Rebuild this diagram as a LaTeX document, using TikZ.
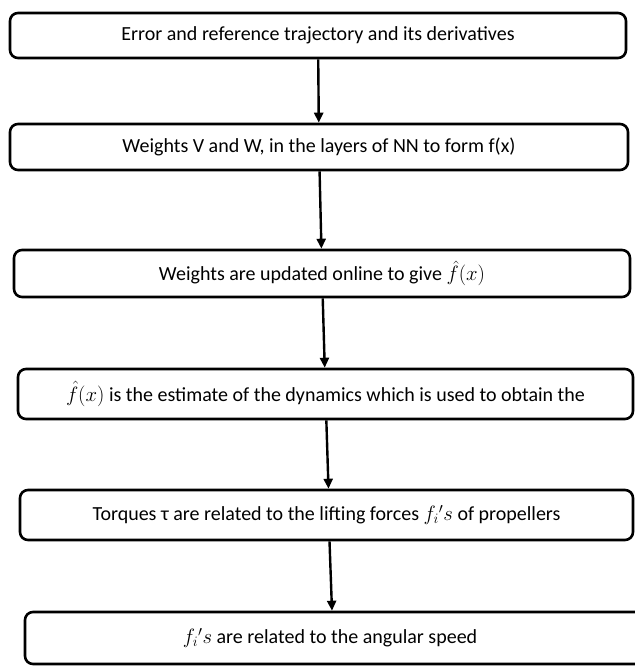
\documentclass[tikz,border=0pt]{standalone}
\usepackage{fontspec}
\setmainfont{Carlito}
\usetikzlibrary{arrows.meta}

\begin{document}
\begin{tikzpicture}[x=1pt, y=-1pt, line join=round,
    stepbox/.style={draw, line width=2.6pt, rounded corners=8pt, inner sep=0pt,
                    font=\fontsize{20}{24}\selectfont},
    flow/.style={line width=2.4pt, -{Triangle[width=9pt,length=10pt]}}]

  %% ════ 方框 ════
  \node[stepbox, minimum width=616pt, minimum height=45pt] (err)  at (318.0,35.5)
    {Error and reference trajectory and its derivatives};
  \node[stepbox, minimum width=618pt, minimum height=46pt] (wts)  at (319.0,147.0)
    {Weights V and W, in the layers of NN to form f(x)};
  \node[stepbox, minimum width=616pt, minimum height=47pt] (upd)  at (322.0,273.5)
    {Weights are updated online to give $\hat{f}(x)$};
  \node[stepbox, minimum width=615pt, minimum height=50pt] (est)  at (325.5,394.0)
    {$\hat{f}(x)$ is the estimate of the dynamics which is used to obtain the};
  \node[stepbox, minimum width=613pt, minimum height=50pt] (torq) at (326.5,515.0)
    {Torques τ are related to the lifting forces $f_i{'}s$ of propellers};
  \node[stepbox, minimum width=620pt, minimum height=52pt] (spd)  at (335.0,638.0)
    {\hspace*{-10pt}$f_i{'}s$ are related to the angular speed};

  %% ════ 箭头 ════
  \draw[flow] (err)  -- (wts);
  \draw[flow] (wts)  -- (upd);
  \draw[flow] (upd)  -- (est);
  \draw[flow] (est)  -- ([xshift=2pt]torq.north);
  \draw[flow] ([xshift=3pt]torq.south) -- ([xshift=-3pt]spd.north);

  % 钉死画布
  \pgfresetboundingbox
  \path[use as bounding box] (0,0) rectangle (634,668);
\end{tikzpicture}
\end{document}
